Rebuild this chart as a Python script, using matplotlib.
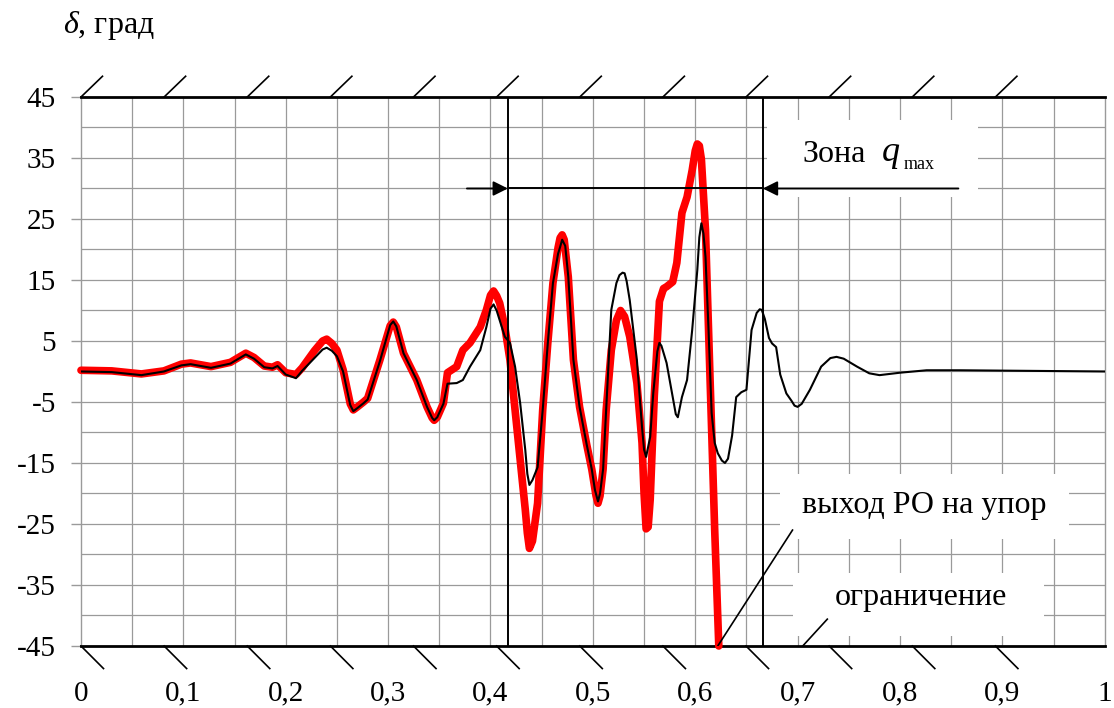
import numpy as np
import matplotlib
matplotlib.use('Agg')
import matplotlib.pyplot as plt
import matplotlib.patches as mpatches

plt.rcParams['font.family'] = ['Liberation Serif', 'DejaVu Serif']
plt.rcParams['mathtext.fontset'] = 'custom'
plt.rcParams['mathtext.rm'] = 'Liberation Serif'
plt.rcParams['mathtext.it'] = 'Liberation Serif:italic'

# black curve: (time, deflection)
black_t = [0.000, 0.030, 0.059, 0.081, 0.098, 0.107, 0.127, 0.146, 0.161, 0.169,
           0.179, 0.187, 0.192, 0.200, 0.210, 0.216, 0.228, 0.236, 0.240, 0.245,
           0.250, 0.256, 0.263, 0.266, 0.270, 0.276, 0.280, 0.292, 0.302, 0.305,
           0.308, 0.315, 0.328, 0.338, 0.343, 0.345, 0.348, 0.354, 0.358, 0.367,
           0.373, 0.380, 0.390, 0.396, 0.400, 0.403, 0.406, 0.409, 0.414, 0.419,
           0.424, 0.429, 0.434, 0.436, 0.438, 0.441, 0.446, 0.451, 0.456, 0.461,
           0.466, 0.468, 0.470, 0.473, 0.476, 0.481, 0.487, 0.494, 0.499, 0.502,
           0.505, 0.507, 0.510, 0.513, 0.518, 0.523, 0.526, 0.529, 0.531, 0.533,
           0.536, 0.543, 0.548, 0.550, 0.552, 0.556, 0.559, 0.563, 0.565, 0.567,
           0.572, 0.578, 0.581, 0.583, 0.587, 0.592, 0.597, 0.602, 0.604, 0.606,
           0.608, 0.610, 0.613, 0.616, 0.619, 0.622, 0.626, 0.629, 0.632, 0.636,
           0.640, 0.645, 0.650, 0.655, 0.660, 0.663, 0.665, 0.668, 0.672, 0.675,
           0.679, 0.683, 0.689, 0.694, 0.697, 0.700, 0.704, 0.712, 0.723, 0.732,
           0.738, 0.745, 0.758, 0.770, 0.780, 0.800, 0.826, 0.858, 0.924, 1.000]
black_d = [0.0, -0.1, -0.6, 0.0, 1.0, 1.2, 0.6, 1.3, 2.8, 2.1,
           0.7, 0.5, 0.9, -0.5, -1.1, 0.1, 2.2, 3.6, 3.9, 3.4,
           2.5, 0.0, -5.5, -6.5, -6.0, -5.2, -4.6, 1.7, 7.6, 8.2,
           7.4, 3.0, -1.4, -5.8, -7.6, -8.0, -7.5, -5.3, -2.0, -1.9,
           -1.4, 0.8, 3.5, 7.3, 10.3, 11.0, 10.0, 8.4, 5.7, 4.7,
           0.8, -5.2, -12.9, -16.8, -18.6, -17.8, -15.7, -6.3, 4.7, 14.5,
           19.3, 20.4, 21.6, 20.6, 15.5, 1.9, -5.8, -12.0, -16.1, -19.4,
           -21.3, -20.0, -16.0, -6.3, 10.1, 14.5, 15.8, 16.2, 16.1, 14.8,
           11.7, 1.9, -9.1, -12.8, -14.0, -10.7, -3.5, 3.3, 4.7, 4.2,
           1.4, -4.2, -7.0, -7.5, -4.2, -1.4, 6.8, 16.6, 22.0, 24.3,
           22.6, 18.8, 6.8, -6.8, -11.7, -13.4, -14.6, -15.0, -14.3, -10.5,
           -4.2, -3.4, -3.0, 6.8, 9.6, 10.2, 10.1, 8.6, 5.5, 4.6,
           4.0, -0.5, -3.6, -4.8, -5.6, -5.8, -5.3, -3.0, 0.8, 2.2,
           2.4, 2.1, 0.8, -0.3, -0.6, -0.2, 0.2, 0.2, 0.1, 0.0]

# red curve (runs into the stop at -45)
red_t = [0.000, 0.030, 0.059, 0.081, 0.098, 0.107, 0.127, 0.146, 0.161, 0.169,
         0.179, 0.187, 0.192, 0.200, 0.210, 0.216, 0.228, 0.236, 0.240, 0.245,
         0.250, 0.256, 0.263, 0.266, 0.270, 0.276, 0.280, 0.292, 0.302, 0.305,
         0.308, 0.315, 0.328, 0.338, 0.343, 0.345, 0.348, 0.354, 0.358, 0.367,
         0.373, 0.380, 0.390, 0.396, 0.400, 0.403, 0.406, 0.409, 0.414, 0.419,
         0.424, 0.429, 0.434, 0.436, 0.438, 0.441, 0.446, 0.451, 0.456, 0.461,
         0.466, 0.468, 0.470, 0.472, 0.476, 0.481, 0.487, 0.494, 0.499, 0.503,
         0.505, 0.507, 0.510, 0.513, 0.518, 0.523, 0.527, 0.531, 0.536, 0.543,
         0.548, 0.550, 0.552, 0.554, 0.556, 0.560, 0.565, 0.569, 0.572, 0.578,
         0.582, 0.587, 0.592, 0.597, 0.600, 0.602, 0.604, 0.606, 0.610, 0.613,
         0.616, 0.619, 0.623]
red_d = [0.2, 0.1, -0.4, 0.1, 1.2, 1.4, 0.8, 1.5, 3.0, 2.3,
         0.9, 0.7, 1.1, -0.2, -0.5, 0.6, 3.4, 5.0, 5.3, 4.6,
         3.5, 0.3, -5.3, -6.3, -5.8, -5.0, -4.4, 1.9, 7.5, 8.1,
         7.3, 3.0, -1.4, -5.8, -7.6, -8.0, -7.5, -5.2, -0.2, 0.8,
         3.5, 4.7, 7.3, 10.1, 12.5, 13.2, 12.4, 11.2, 7.3, 1.9,
         -6.3, -14.5, -22.7, -26.5, -29.0, -27.8, -21.6, -6.3, 4.7, 14.5,
         20.3, 21.9, 22.4, 21.6, 15.5, 1.9, -5.8, -12.0, -16.1, -20.3,
         -21.6, -20.4, -16.0, -6.3, 3.5, 8.4, 10.0, 9.0, 5.7, -1.9,
         -11.7, -20.0, -25.8, -25.5, -21.0, -4.0, 11.5, 13.6, 13.9, 14.7,
         17.8, 26.0, 28.6, 33.0, 36.2, 37.3, 37.0, 34.8, 23.2, 6.8,
         -9.6, -26.0, -45.0]

y_ticks = [45, 35, 25, 15, 5, -5, -15, -25, -35, -45]
x_ticks = [0, 0.1, 0.2, 0.3, 0.4, 0.5, 0.6, 0.7, 0.8, 0.9, 1.0]
x_labels = ['0', '0,1', '0,2', '0,3', '0,4', '0,5', '0,6', '0,7', '0,8', '0,9', '1']

zone_start, zone_end = 0.417, 0.666

fig = plt.figure(figsize=(11.14, 7.08), dpi=100)
ax = fig.add_axes([0.0727, 0.0876, 0.919, 0.7754])
ax.set_xlim(0, 1)
ax.set_ylim(-45, 45)

# grid every 0.05 / 5 deg
grid_c = '#9a9a9a'
for gx in np.arange(0.05, 1.0, 0.05):
    ax.axvline(gx, color=grid_c, lw=0.9, zorder=0)
for gy in np.arange(-40, 45, 5):
    ax.axhline(gy, color=grid_c, lw=0.9, zorder=0)

for s in ['left', 'right']:
    ax.spines[s].set_color(grid_c)
    ax.spines[s].set_linewidth(1.0)
for s in ['top', 'bottom']:
    ax.spines[s].set_color('black')
    ax.spines[s].set_linewidth(2.0)

ax.set_yticks(y_ticks)
ax.set_yticklabels([str(v) for v in y_ticks])
ax.set_xticks(x_ticks)
ax.set_xticklabels(x_labels)
ax.tick_params(axis='y', length=7, width=1.0, color=grid_c, pad=11, labelsize=21)
ax.tick_params(axis='x', length=0, pad=25, labelsize=21)

# curves
ax.plot(red_t, red_d, color='#ff0000', lw=5.5, solid_joinstyle='round',
        solid_capstyle='round', zorder=3, clip_on=False)
ax.plot(black_t, black_d, color='black', lw=1.5, solid_joinstyle='round', zorder=4)

# hatching for the +/-45 limits
for hx in np.arange(12) * 0.0812:
    ax.plot([hx, hx + 0.021], [45, 48.4], color='black', lw=1.2, clip_on=False)
    ax.plot([hx, hx + 0.022], [-45, -48.7], color='black', lw=1.2, clip_on=False)

# q max zone
ax.axvline(zone_start, color='black', lw=1.4, zorder=5)
ax.axvline(zone_end, color='black', lw=1.4, zorder=5)

ax.add_patch(mpatches.Rectangle((0.670, 28.6), 0.206, 12.6, facecolor='white',
                                edgecolor='none', zorder=2))
ax.add_patch(mpatches.Rectangle((0.683, -27.5), 0.282, 10.7, facecolor='white',
                                edgecolor='none', zorder=2))
ax.add_patch(mpatches.Rectangle((0.695, -43.4), 0.246, 10.3, facecolor='white',
                                edgecolor='none', zorder=2))

ax.plot([zone_start, zone_end], [30, 30], color='black', lw=1.4, zorder=6)
ax.annotate('', xy=(zone_start, 30), xytext=(0.377, 30), zorder=6,
            arrowprops=dict(arrowstyle='-|>', color='black', lw=1.4,
                            mutation_scale=22, shrinkA=0, shrinkB=0))
ax.annotate('', xy=(zone_end, 30), xytext=(0.857, 30), zorder=6,
            arrowprops=dict(arrowstyle='-|>', color='black', lw=1.4,
                            mutation_scale=22, shrinkA=0, shrinkB=0))

ax.text(0.705, 35.5, 'Зона', fontsize=23, ha='left', va='center', zorder=7)
ax.text(0.781, 35.5, r'$q$', fontsize=26, ha='left', va='center', zorder=7)
ax.text(0.804, 34.0, 'max', fontsize=13, ha='left', va='center', zorder=7)
ax.text(0.824, -21.9, 'выход РО на упор', fontsize=23, ha='center', va='center', zorder=7)
ax.text(0.820, -37.1, 'ограничение', fontsize=23, ha='center', va='center', zorder=7)

# leader lines
ax.plot([0.622, 0.695], [-45, -26], color='black', lw=1.2, zorder=6)
ax.plot([0.705, 0.729], [-45, -40.6], color='black', lw=1.2, zorder=6)

fig.text(63 / 1114, 1 - 25 / 708, r'$\delta$, град', fontsize=23, ha='left', va='center')

fig.savefig('out.png', dpi=100, facecolor='white')
